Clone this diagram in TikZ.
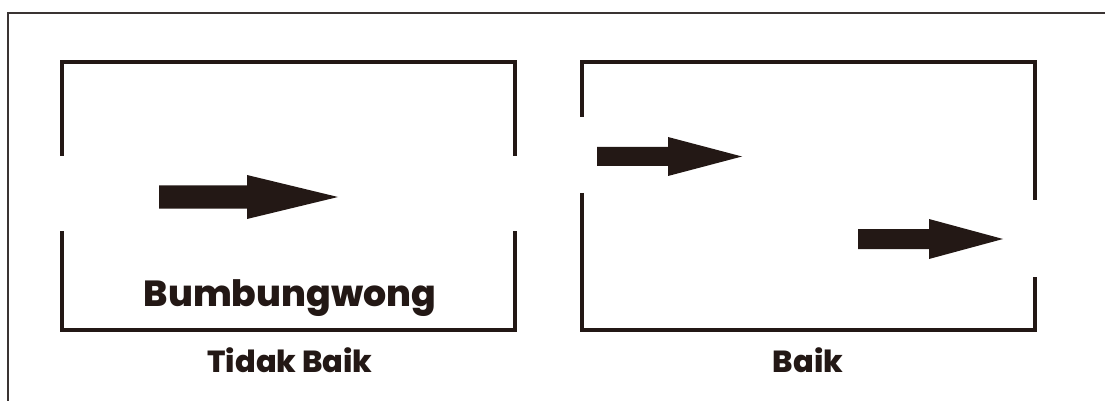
\documentclass[tikz,border=0pt]{standalone}
\usepackage{fontspec}
\setmainfont{Poppins}[BoldFont={* ExtraBold}]
\usetikzlibrary{positioning}
\definecolor{Ink}{HTML}{231815}
\definecolor{Frame}{HTML}{3A3433}
\tikzset{
 wall/.style={draw=Ink, line width=2.6pt},
 frameline/.style={draw=Frame, line width=1.1pt},
 label/.style={text=Ink, font=\bfseries, inner sep=0pt, anchor=base}
}

\begin{document}
\begin{tikzpicture}[x=0.03cm,y=-0.03cm]
\useasboundingbox (0,0) rectangle (1105,401);
% outer frame
\draw[frameline] (8,401) -- (8,13) -- (1105,13);
% left room, openings facing each other
\draw[wall] (62,156) -- (62,62) -- (515,62) -- (515,156);
\draw[wall] (62,231) -- (62,330) -- (515,330) -- (515,231);
% right room, openings offset
\draw[wall] (582,117) -- (582,62) -- (1035,62) -- (1035,200);
\draw[wall] (582,193) -- (582,330) -- (1035,330) -- (1035,277);
% wind arrows
\foreach \xa/\xb/\xc/\ym/\hs/\hh in {159/247/338/197/11.5/22, 597/668/742/156.5/9.5/19.5, 858/929/1003/239/10/20}{
  \fill[Ink] (\xa,\ym-\hs) -- (\xb,\ym-\hs) -- (\xb,\ym-\hh) -- (\xc,\ym)
    -- (\xb,\ym+\hh) -- (\xb,\ym+\hs) -- (\xa,\ym+\hs) -- cycle;
}
\node[label, font=\bfseries\fontsize{31}{31}\selectfont] (bumbung) at (290,306) {Bumbungwong};
\node[label, font=\bfseries\fontsize{26}{26}\selectfont] (tidakbaik) at (290,372) {Tidak Baik};
\node[label, font=\bfseries\fontsize{26}{26}\selectfont] (baik) at (808,372) {Baik};
\end{tikzpicture}
\end{document}
